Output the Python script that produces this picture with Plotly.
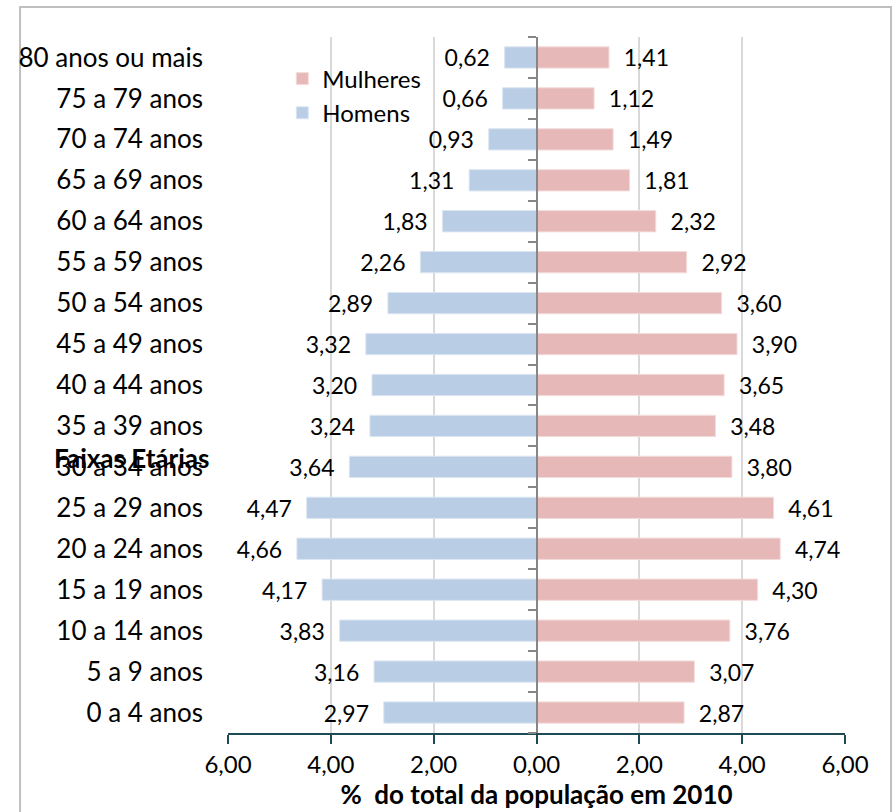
import plotly.graph_objects as go

categories = ["0 a 4 anos", "5 a 9 anos", "10 a 14 anos", "15 a 19 anos", "20 a 24 anos",
              "25 a 29 anos", "30 a 34 anos", "35 a 39 anos", "40 a 44 anos", "45 a 49 anos",
              "50 a 54 anos", "55 a 59 anos", "60 a 64 anos", "65 a 69 anos", "70 a 74 anos",
              "75 a 79 anos", "80 anos ou mais"]
homens = [2.97, 3.16, 3.83, 4.17, 4.66, 4.47, 3.64, 3.24, 3.20, 3.32, 2.89, 2.26, 1.83, 1.31, 0.93, 0.66, 0.62]
mulheres = [2.87, 3.07, 3.76, 4.30, 4.74, 4.61, 3.80, 3.48, 3.65, 3.90, 3.60, 2.92, 2.32, 1.81, 1.49, 1.12, 1.41]
x_tickvals = [-6, -4, -2, 0, 2, 4, 6]
x_ticktext = ["6,00", "4,00", "2,00", "0,00", "2,00", "4,00", "6,00"]

FONT = "Lato"
FS = 26
LFS = 23
NB = "\u00a0"

def fmt(v):
    return f"{v:.2f}".replace(".", ",")

fig = go.Figure()
fig.add_trace(go.Bar(
    y=categories, x=mulheres, orientation="h", name="Mulheres",
    marker=dict(color="#e6b9b8", line=dict(color="#f2dcdb", width=1)),
    text=[NB * 2 + fmt(v) for v in mulheres], textposition="outside",
    constraintext="none",
    textfont=dict(family=FONT, size=LFS, color="black"), cliponaxis=False,
    yaxis="y2",
))
fig.add_trace(go.Bar(
    y=categories, x=[-v for v in homens], orientation="h", name="Homens",
    marker=dict(color="#b9cde5", line=dict(color="#dce6f2", width=1)),
    text=[fmt(v) + NB * 2 for v in homens], textposition="outside",
    constraintext="none",
    textfont=dict(family=FONT, size=LFS, color="black"), cliponaxis=False,
))

fig.update_layout(
    width=895, height=812,
    margin=dict(l=228, r=50, t=37, b=79, autoexpand=False),
    paper_bgcolor="white", plot_bgcolor="white",
    font=dict(family=FONT, size=FS, color="black"),
    barmode="relative", bargap=0.48,
    showlegend=True,
    legend=dict(x=0.088, y=0.972, xanchor="left", yanchor="top",
                traceorder="normal", bgcolor="rgba(0,0,0,0)",
                font=dict(family=FONT, size=24), itemwidth=30, tracegroupgap=0),
    xaxis=dict(range=[-6, 6], tickvals=x_tickvals, ticktext=x_ticktext,
               showgrid=True, gridcolor="#d9d9d9", gridwidth=1.5,
               zeroline=False, showline=True, linecolor="#1d4a55", linewidth=2,
               ticks="outside", ticklen=9, tickwidth=2, tickcolor="#1d4a55",
               automargin=False,
               tickfont=dict(family=FONT, size=24, color="black"),
               title=dict(text="<b>%  do total da população em 2010</b>",
                          font=dict(family=FONT, size=FS, color="black"), standoff=6)),
    yaxis=dict(type="category", categoryorder="array", categoryarray=categories,
               range=[-0.5, 16.5], showgrid=False, zeroline=False, showline=False,
               ticks="", ticklabelstandoff=24, automargin=False,
               tickfont=dict(family=FONT, size=FS, color="black")),
    yaxis2=dict(type="category", categoryorder="array", categoryarray=categories,
                range=[-0.5, 16.5], overlaying="y", anchor="free", position=0.5,
                side="left", showgrid=False, zeroline=False, showticklabels=False,
                showline=True, linecolor="#868686", linewidth=2,
                ticks="outside", tickson="boundaries", ticklen=8, tickwidth=2,
                tickcolor="#868686"),
    annotations=[dict(text="<b>Faixas Etárias</b>", xref="paper", yref="paper",
                      x=-0.156, y=0.395, xanchor="center", yanchor="middle",
                      showarrow=False, font=dict(family=FONT, size=FS, color="black"))],
    shapes=[dict(type="rect", xref="paper", yref="paper", x0=-0.337, x1=1.0746,
                 y0=-0.2, y1=1.043, line=dict(color="#bfbfbf", width=2),
                 fillcolor="rgba(0,0,0,0)", layer="below")],
)

fig.write_html("out.html", config={"displayModeBar": False},
               post_script="document.body.style.margin='0';document.body.style.overflow='hidden';")
